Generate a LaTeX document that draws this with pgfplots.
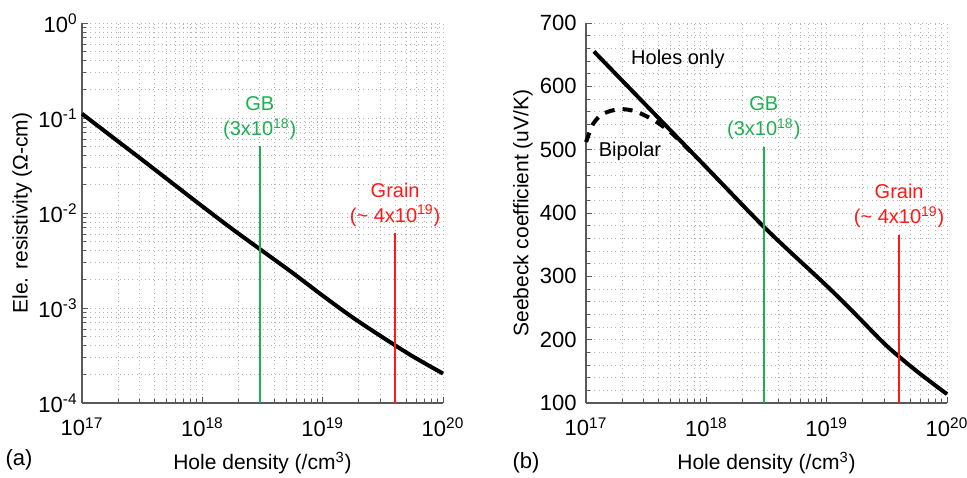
\documentclass[border=0pt]{standalone}
\usepackage{fontspec}
\setmainfont{Liberation Sans}
\usepackage{pgfplots}
\pgfplotsset{compat=1.18}
\definecolor{gbgreen}{RGB}{30,175,80}
\definecolor{grainred}{RGB}{255,25,25}

\pgfplotsset{
  myaxis/.style={
    scale only axis, width=180.5pt, height=190pt,
    axis x line=bottom, axis y line=left,
    axis line style={black!65, line width=0.6pt, -},
    xmin=1e17, xmax=1e20,
    xtick={1e17,1e18,1e19,1e20},
    xticklabels={10\textsuperscript{17},10\textsuperscript{18},10\textsuperscript{19},10\textsuperscript{20}},
    minor xtick={2e17,3e17,4e17,5e17,6e17,7e17,8e17,9e17,
                 2e18,3e18,4e18,5e18,6e18,7e18,8e18,9e18,
                 2e19,3e19,4e19,5e19,6e19,7e19,8e19,9e19},
    tick align=inside,
    major tick length=3pt, minor tick length=1.8pt,
    tick style={black!65, line width=0.5pt},
    grid=both,
    major grid style={dash pattern=on 0.5pt off 1.6pt, black!30, line width=0.5pt},
    minor grid style={dash pattern=on 0.5pt off 1.6pt, black!30, line width=0.5pt},
    xticklabel style={font=\fontsize{11}{13}\selectfont, inner sep=0pt, anchor=north, yshift=-7pt},
    yticklabel style={font=\fontsize{11}{13}\selectfont, inner sep=0pt, anchor=east},
    /pgf/number format/assume math mode=true,
    xlabel={Hole density (/cm\textsuperscript{3})},
    xlabel style={font=\fontsize{10.5}{12}\selectfont, at={(axis description cs:0.5,-0.158)}, anchor=center},
    ylabel style={font=\fontsize{10.5}{12}\selectfont, anchor=center},
    clip=false,
  },
}
\tikzset{annot/.style={font=\fontsize{10}{12.5}\selectfont, align=center, inner sep=0pt, anchor=south, yshift=3pt}}

\begin{document}
\begin{tikzpicture}
\useasboundingbox (-41pt,-37pt) rectangle (442.5pt,201.5pt);

% ---------------- (a) ----------------
\begin{loglogaxis}[myaxis, at={(0pt,0pt)}, anchor=south west,
  ymin=1e-4, ymax=1,
  ytick={1e-4,1e-3,1e-2,1e-1,1},
  yticklabels={10\textsuperscript{-4},10\textsuperscript{-3},10\textsuperscript{-2},10\textsuperscript{-1},10\textsuperscript{0}},
  minor ytick={2e-4,3e-4,4e-4,5e-4,6e-4,7e-4,8e-4,9e-4,
               2e-3,3e-3,4e-3,5e-3,6e-3,7e-3,8e-3,9e-3,
               2e-2,3e-2,4e-2,5e-2,6e-2,7e-2,8e-2,9e-2,
               0.2,0.3,0.4,0.5,0.6,0.7,0.8,0.9},
  yticklabel style={xshift=-2pt},
  ylabel={Ele. resistivity (Ω-cm)},
  ylabel style={at={(axis description cs:-0.166,0.5)}},
]
\addplot[black, line width=2pt, smooth] coordinates {
  (1e17,0.1109) (1.778e17,0.06339) (3.162e17,0.03631) (5.623e17,0.02065)
  (1e18,0.01175) (1.778e18,0.006761) (3.162e18,0.003981) (5.623e18,0.002344)
  (1e19,0.001349) (1.778e19,0.0007943) (3.162e19,0.0004898) (5.623e19,0.0003090)
  (1e20,0.0002042)
};
\addplot[gbgreen, line width=1pt] coordinates {(3e18,1e-4) (3e18,0.0507)};
\addplot[grainred, line width=1pt] coordinates {(4e19,1e-4) (4e19,0.0062)};
\node[annot, text=gbgreen] at (axis cs:3e18,0.0507) {GB\\(3x10\textsuperscript{18})};
\node[annot, text=grainred] at (axis cs:4e19,0.0062) {Grain\\(\textasciitilde{} 4x10\textsuperscript{19})};
\node[font=\fontsize{11}{13}\selectfont, anchor=center] at (axis description cs:-0.1745,-0.15) {(a)};
\end{loglogaxis}

% ---------------- (b) ----------------
\begin{semilogxaxis}[myaxis, at={(252pt,0pt)}, anchor=south west,
  ymin=100, ymax=700,
  ytick={100,200,300,400,500,600,700},
  minor y tick num=4,
  yticklabel style={xshift=-4.5pt},
  ylabel={Seebeck coefficient (uV/K)},
  ylabel style={at={(axis description cs:-0.1745,0.5)}},
]
\addplot[black, line width=2pt, smooth] coordinates {
  (1.164e17,655) (3.162e17,570) (1e18,472) (3.162e18,374) (1e19,285)
  (1.778e19,238) (3.162e19,190) (5.623e19,150) (1e20,114)
};
\addplot[black, line width=2pt, smooth, dash pattern=on 5pt off 4pt] coordinates {
  (1e17,512) (1.072e17,528) (1.148e17,541) (1.318e17,554) (1.585e17,561)
  (1.995e17,564) (2.512e17,561) (3.162e17,553) (3.981e17,542) (5.012e17,528)
  (6.310e17,510) (7.943e17,491)
};
\addplot[gbgreen, line width=1pt] coordinates {(3e18,100) (3e18,505)};
\addplot[grainred, line width=1pt] coordinates {(4e19,100) (4e19,366)};
\node[annot, text=gbgreen] at (axis cs:3e18,505) {GB\\(3x10\textsuperscript{18})};
\node[annot, text=grainred] at (axis cs:4e19,366) {Grain\\(\textasciitilde{} 4x10\textsuperscript{19})};
\node[font=\fontsize{10}{12}\selectfont, anchor=center] at (axis cs:5.8e17,643) {Holes only};
\node[font=\fontsize{10}{12}\selectfont, anchor=center] at (axis cs:2.32e17,497) {Bipolar};
\node[font=\fontsize{11}{13}\selectfont, anchor=center] at (axis description cs:-0.166,-0.158) {(b)};
\end{semilogxaxis}
\end{tikzpicture}
\end{document}
